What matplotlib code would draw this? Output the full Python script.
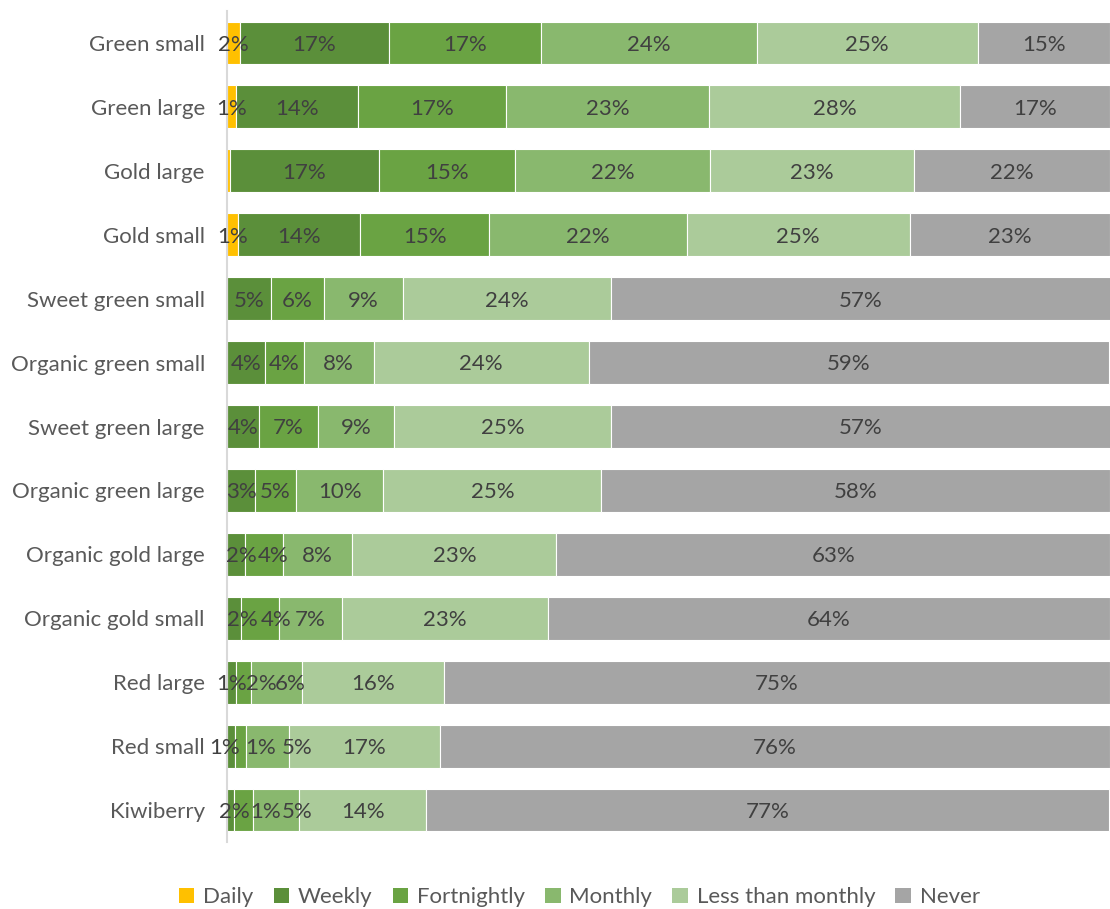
import matplotlib
matplotlib.use("Agg")
import matplotlib.pyplot as plt
from matplotlib.patches import Patch

plt.rcParams['font.family'] = ['Lato', 'DejaVu Sans']

categories = [
    "Green small", "Green large", "Gold large", "Gold small",
    "Sweet green small", "Organic green small", "Sweet green large",
    "Organic green large", "Organic gold large", "Organic gold small",
    "Red large", "Red small", "Kiwiberry",
]
series_names = ["Daily", "Weekly", "Fortnightly", "Monthly", "Less than monthly", "Never"]

# Share of respondents (%) per frequency, one entry per category
daily       = [1.5, 1.0, 0.3, 1.2, 0.0, 0.0, 0.0, 0.0, 0.0, 0.0, 0.0, 0.0, 0.0]
weekly      = [16.8, 13.8, 16.9, 13.9, 5.0, 4.3, 3.6, 3.2, 2.0, 1.6, 1.0, 0.9, 0.8]
fortnightly = [17.3, 16.8, 15.4, 14.6, 6.0, 4.4, 6.7, 4.6, 4.3, 4.3, 1.7, 1.3, 2.2]
monthly     = [24.4, 23.0, 22.1, 22.4, 8.9, 7.9, 8.6, 9.9, 7.9, 7.1, 5.8, 4.8, 5.2]
less_than_monthly = [25.0, 28.4, 23.1, 25.2, 23.6, 24.4, 24.6, 24.7, 23.1, 23.3, 16.1, 17.1, 14.3]
never       = [15.0, 17.0, 22.2, 22.7, 56.6, 58.9, 56.6, 57.6, 62.7, 63.7, 75.4, 75.9, 77.4]

series = [daily, weekly, fortnightly, monthly, less_than_monthly, never]
colors = ["#FFC000", "#5B8F3A", "#6AA343", "#89B86E", "#ABCB9A", "#A5A5A5"]

# Nudges (in % units) for crowded value labels: (category index, series index) -> shift
label_shift = {
    (8, 1): 0.6, (8, 2): 1.1,
    (9, 1): 0.9, (9, 2): 1.8,
    (10, 2): 2.0, (10, 3): 1.6,
    (11, 1): -0.75, (11, 2): 2.2, (11, 3): 3.3,
    (12, 1): 4.0, (12, 2): -1.1, (12, 3): 2.4,
}

FS = 16

fig = plt.figure(figsize=(11.10, 9.09), dpi=100)
ax = fig.add_axes([0.2045, 0.0737, 0.7955, 0.9142])

y = list(range(len(categories)))
left = [0.0] * len(categories)
for s_idx, (name, vals, col) in enumerate(zip(series_names, series, colors)):
    ax.barh(y, vals, left=left, height=0.67, color=col, edgecolor="white",
            linewidth=0.8, label=name)
    for c_idx, v in enumerate(vals):
        if v >= 0.5:
            xc = left[c_idx] + v / 2 + label_shift.get((c_idx, s_idx), 0.0)
            ax.text(xc, c_idx + 0.03, f"{v:.0f}%", ha="center", va="center",
                    fontsize=FS, color="#404040")
    left = [l + v for l, v in zip(left, vals)]

ax.set_xlim(0, 100)
ax.set_ylim(len(categories) - 0.5, -0.5)
ax.set_yticks(y)
ax.set_yticklabels(categories, fontsize=FS, color="#595959")
ax.tick_params(axis="y", length=0, pad=16)
ax.set_xticks([])
for side in ("top", "right", "bottom"):
    ax.spines[side].set_visible(False)
ax.spines["left"].set_color("#D9D9D9")
ax.spines["left"].set_linewidth(1.5)

handles = [Patch(facecolor=c, edgecolor="none", label=n) for n, c in zip(series_names, colors)]
fig.legend(handles=handles, loc="center", bbox_to_anchor=(0.522, 0.013), ncol=6,
           frameon=False, fontsize=FS, labelcolor="#595959",
           handlelength=0.7, handleheight=0.7, handletextpad=0.4, columnspacing=0.9)

fig.savefig("out.png", dpi=100)
